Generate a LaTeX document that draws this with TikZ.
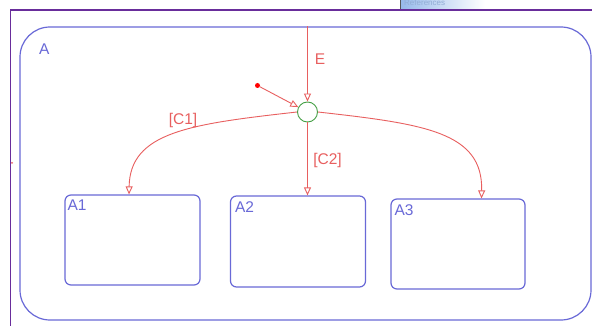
\documentclass[tikz,border=0pt]{standalone}
\usepackage{fontspec}
\setmainfont{Liberation Sans}
\usetikzlibrary{arrows.meta}
\definecolor{sred}{RGB}{232,95,95}
\definecolor{sblue}{RGB}{105,105,215}
\definecolor{sgreen}{RGB}{70,160,70}
\definecolor{frame}{RGB}{105,45,155}
\definecolor{tabblue}{RGB}{150,185,235}
\begin{document}
\begin{tikzpicture}[x=1pt,y=-1pt,
  statebox/.style={draw=sblue, line width=1.2pt, rounded corners=6pt, fill=white},
  slabel/.style={text=sblue, font=\fontsize{15.5}{17}\selectfont, inner sep=0pt, anchor=north west},
  trans/.style={draw=sred, line width=0.9pt, -{Triangle[open,length=8pt,width=7pt]}},
  tlabel/.style={text=sred, font=\fontsize{15.5}{17}\selectfont, inner sep=0pt}]
\useasboundingbox (0,0) rectangle (592,326);
\fill[white] (0,0) rectangle (592,326);
% screenshot tab
\shade[left color=tabblue, right color=white] (400,0) rectangle (485,9);
\draw[gray!70!black, line width=0.8pt] (400.5,0) -- (400.5,9);
\node[text=tabblue!80!gray, font=\fontsize{8}{9}\selectfont, inner sep=0pt, anchor=west] (tab) at (404,3) {References};
% frame
\draw[frame, line width=1.4pt] (592,10) -- (10.7,10) -- (10.7,326);
\fill[sred] (12,163) circle (1pt);
% outer state
\node[draw=sblue, line width=1.2pt, rounded corners=30pt, minimum width=571pt, minimum height=293pt, inner sep=0pt] (A) at (305.5,173.5) {};
\node[slabel] (Alab) at (39,44) {A};
% substates
\node[statebox, minimum width=135pt, minimum height=90pt] (A1) at (132.5,240) {};
\node[statebox, minimum width=135pt, minimum height=91pt] (A2) at (298,241.5) {};
\node[statebox, minimum width=134pt, minimum height=90pt] (A3) at (458,244) {};
\node[slabel] (A1l) at ([shift={(3,5)}]A1.north west) {A1};
\node[slabel] (A2l) at ([shift={(5,6)}]A2.north west) {A2};
\node[slabel] (A3l) at ([shift={(4,6)}]A3.north west) {A3};
% junction
\node[circle, draw=sgreen, line width=0.9pt, minimum size=20pt, inner sep=0pt, fill=white] (j) at (307.5,112) {};
% default transition
\node[circle, fill=red, minimum size=5pt, inner sep=0pt] (d) at (257.5,85.5) {};
\draw[trans] (d) -- (j);
% E
\coordinate (Etop) at (j |- A.north);
\draw[trans] (Etop) -- (j.north);
\node[tlabel] (E) at (320,59) {E};
% branches
\coordinate (t1) at (A1.north -| 129,0);
\coordinate (t3) at (A3.north -| 481.5,0);
\draw[trans] (j.west) .. controls (190,124) and (130,132) .. (t1);
\draw[trans] (j.south) -- (j |- A2.north);
\draw[trans] (j.east) .. controls (425,124) and (483,132) .. (t3);
\node[tlabel] (c1) at (183,120) {[C1]};
\node[tlabel] (c2) at (327.5,160) {[C2]};
\end{tikzpicture}
\end{document}
